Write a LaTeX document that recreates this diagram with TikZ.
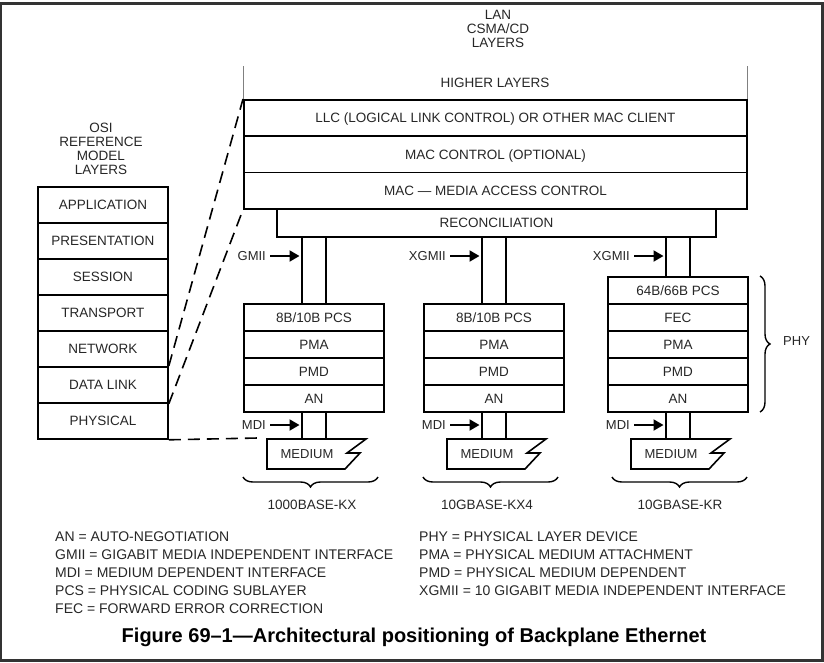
\documentclass[tikz,border=0pt]{standalone}
\usepackage{fontspec}
\setmainfont{Liberation Sans}
\usetikzlibrary{decorations.pathreplacing,arrows.meta,calc}
\begin{document}
\begin{tikzpicture}[x=1pt,y=-1pt,
  txt/.style={inner sep=0pt, font=\fontsize{13.5}{14}\selectfont, text=black!85},
  sml/.style={inner sep=0pt, font=\fontsize{13}{14}\selectfont, text=black!85},
  lay/.style={txt, draw=black, line width=1.8pt, anchor=north west, text height=9.6pt, text depth=0pt},
  osi/.style={lay, minimum width=130pt, minimum height=36pt},
  stk/.style={lay, minimum width=140pt, minimum height=27pt},
  wire/.style={line width=1.3pt},
  dashln/.style={line width=1.6pt, dash pattern=on 12pt off 7pt},
  ifarrow/.style={line width=2pt, -{Triangle[length=10pt,width=11pt]}},
  brc/.style={decorate, decoration={brace, amplitude=10pt}, line width=1.4pt},
  medshape/.style={line width=1.6pt, line join=miter},
  legend/.style={inner sep=0pt, anchor=west, font=\fontsize{14}{16}\selectfont, text=black!85},
]
\useasboundingbox (0,0) rectangle (824,662);
\draw[line width=2.2pt, black!80] (1,3.5) rectangle (822.5,660.5);

% LAN CSMA/CD column
\node[txt, align=center] (lan) at (498,29) {LAN\\CSMA/CD\\LAYERS};
\node[txt] (hl) at (495,83) {HIGHER LAYERS};
\node[lay, minimum width=503pt, minimum height=36.3pt] (llc) at (243,99) {LLC (LOGICAL LINK CONTROL) OR OTHER MAC CLIENT};
\node[lay, minimum width=503pt, minimum height=36.3pt] (macc) at (243,135.3) {MAC CONTROL (OPTIONAL)};
\node[lay, minimum width=503pt, minimum height=36.3pt] (mac) at (243,171.6) {MAC — MEDIA ACCESS CONTROL};
\node[lay, minimum width=439pt, minimum height=28pt] (recon) at (276,208) {RECONCILIATION};
\draw[gray, line width=0.8pt] (llc.north west) -- ++(0,-33);
\draw[gray, line width=0.8pt] (llc.north east) -- ++(0,-33);

% OSI column
\node[txt, align=center] (osilab) at (101,149) {OSI\\REFERENCE\\MODEL\\LAYERS};
\node[osi] (app) at (37,186) {APPLICATION};
\node[osi] (pres) at (37,222) {PRESENTATION};
\node[osi] (sess) at (37,258) {SESSION};
\node[osi] (trans) at (37,294) {TRANSPORT};
\node[osi] (net) at (37,330) {NETWORK};
\node[osi] (dl) at (37,366) {DATA LINK};
\node[osi] (phys) at (37,402) {PHYSICAL};

% stacks
\node[stk] (pcs1) at (243,303) {8B/10B PCS};
\node[stk] (pma1) at (243,330) {PMA};
\node[stk] (pmd1) at (243,357) {PMD};
\node[stk] (an1) at (243,384) {AN};
\node[stk] (pcs2) at (423,303) {8B/10B PCS};
\node[stk] (pma2) at (423,330) {PMA};
\node[stk] (pmd2) at (423,357) {PMD};
\node[stk] (an2) at (423,384) {AN};
\node[stk] (pcs3) at (607,276) {64B/66B PCS};
\node[stk] (fec3) at (607,303) {FEC};
\node[stk] (pma3) at (607,330) {PMA};
\node[stk] (pmd3) at (607,357) {PMD};
\node[stk] (an3) at (607,384) {AN};

\foreach \i/\X/\lab/\base/\bx/\bl in {1/243/GMII/1000BASE-KX/312/243, 2/423/XGMII/10GBASE-KX4/487/423, 3/607/XGMII/10GBASE-KR/680/612}{
  \coordinate (wa\i) at ({\X+59},0);
  \coordinate (wb\i) at ({\X+83},0);
  \draw[wire] (recon.south -| wa\i) -- (pcs\i.north -| wa\i);
  \draw[wire] (recon.south -| wb\i) -- (pcs\i.north -| wb\i);
  \node[sml, anchor=east] (gm\i) at ({\X+23},256) {\lab};
  \draw[ifarrow] ($(gm\i.east)+(4,0)$) -- ($(wa\i |- gm\i.east)+(-2.5,0)$);
  % medium
  \coordinate (mnw\i) at ({\X+24},439);
  \draw[medshape] (mnw\i) -- ++(99,0) -- ++(-19,14) -- ++(13,0) -- ++(-15,16) -- ++(-78,0) -- cycle;
  \node[sml] (med\i) at ({\X+64},454) {MEDIUM};
  \draw[wire] (an\i.south -| wa\i) -- (mnw\i -| wa\i);
  \draw[wire] (an\i.south -| wb\i) -- (mnw\i -| wb\i);
  \node[sml, anchor=east] (md\i) at ({\X+23},425) {MDI};
  \draw[ifarrow] ($(md\i.east)+(4,0)$) -- ($(wa\i |- md\i.east)+(-2.5,0)$);
  % brace and label
  \draw[brc] ({\bl+135},477) -- (\bl,477);
  \node[sml, font=\fontsize{13.5}{15}\selectfont] (base\i) at (\bx,505) {\base};
}

% PHY brace
\draw[brc] (760,276) -- (760,412);
\node[sml, anchor=west] (phy) at (783,341) {PHY};

% dashed mapping lines
\draw[dashln] (dl.north east) -- (llc.north west);
\draw[dashln] (dl.south east) -- (mac.south west);
\draw[dashln] (phys.south east) -- ($(mnw1)+(-9,-1)$);

% legend
\node[legend] (l1) at (55,537) {AN = AUTO-NEGOTIATION};
\node[legend] (l2) at (55,555) {GMII = GIGABIT MEDIA INDEPENDENT INTERFACE};
\node[legend] (l3) at (55,573) {MDI = MEDIUM DEPENDENT INTERFACE};
\node[legend] (l4) at (55,591) {PCS = PHYSICAL CODING SUBLAYER};
\node[legend] (l5) at (55,609) {FEC = FORWARD ERROR CORRECTION};
\node[legend] (r1) at (419,537) {PHY = PHYSICAL LAYER DEVICE};
\node[legend] (r2) at (419,555) {PMA = PHYSICAL MEDIUM ATTACHMENT};
\node[legend] (r3) at (419,573) {PMD = PHYSICAL MEDIUM DEPENDENT};
\node[legend] (r4) at (419,591) {XGMII = 10 GIGABIT MEDIA INDEPENDENT INTERFACE};

\node[inner sep=0pt, font=\bfseries\fontsize{20}{22}\selectfont] (cap) at (414,637) {Figure 69–1—Architectural positioning of Backplane Ethernet};
\end{tikzpicture}
\end{document}
